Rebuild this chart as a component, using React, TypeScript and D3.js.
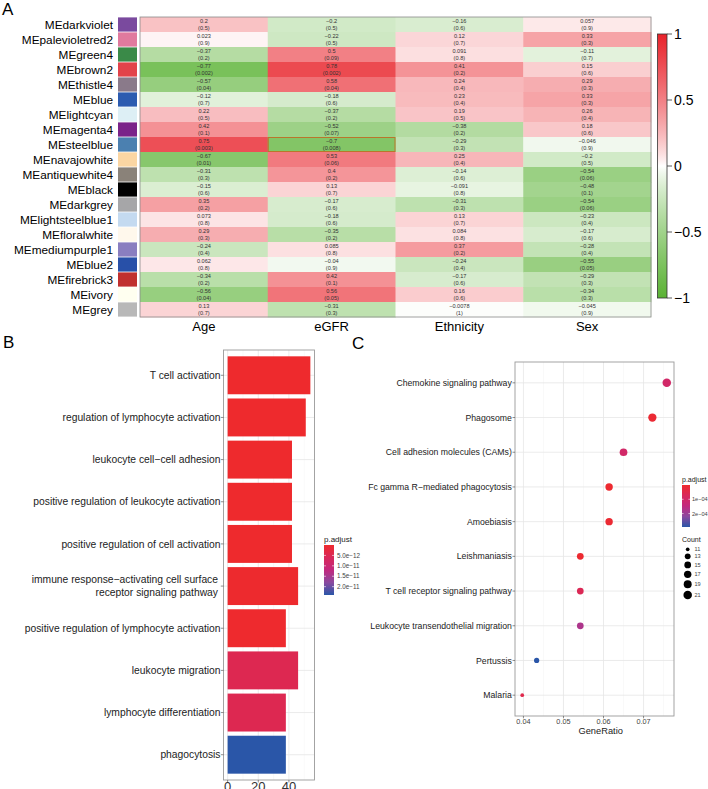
import React from "react";
import * as d3 from "d3";

// ---------------- Panel A data ----------------
const moduleNames = [
  "MEdarkviolet", "MEpalevioletred2", "MEgreen4", "MEbrown2", "MEthistle4",
  "MEblue", "MElightcyan", "MEmagenta4", "MEsteelblue", "MEnavajowhite",
  "MEantiquewhite4", "MEblack", "MEdarkgrey", "MElightsteelblue1", "MEfloralwhite",
  "MEmediumpurple1", "MEblue2", "MEfirebrick3", "MEivory", "MEgrey",
];
const moduleSwatches = [
  "#7A4A9E", "#E07A9E", "#3A8A48", "#E2434A", "#8A7A8A",
  "#2C5BB0", "#DDEFF5", "#7A2389", "#4B80B0", "#FBD6A3",
  "#8A8279", "#000000", "#A6A6A8", "#C4DAF0", "#FFF8EC",
  "#8A7EC0", "#2850A8", "#C0302F", "#FFFFF0", "#B8B8B8",
];
const traitNames = ["Age", "eGFR", "Ethnicity", "Sex"];
const corAge = [0.2, 0.023, -0.37, -0.77, -0.57, -0.12, 0.22, 0.42, 0.75, -0.67, -0.31, -0.15, 0.35, 0.073, 0.29, -0.24, 0.062, -0.34, -0.56, 0.13];
const pAge = [0.5, 0.9, 0.2, 0.002, 0.04, 0.7, 0.5, 0.1, 0.003, 0.01, 0.3, 0.6, 0.2, 0.8, 0.3, 0.4, 0.8, 0.2, 0.04, 0.7];
const corEGFR = [-0.2, -0.22, 0.5, 0.78, 0.58, -0.18, -0.37, -0.52, -0.7, 0.53, 0.4, 0.13, -0.17, -0.18, -0.35, 0.085, -0.04, 0.42, 0.56, -0.31];
const pEGFR = [0.5, 0.5, 0.09, 0.002, 0.04, 0.6, 0.2, 0.07, 0.008, 0.06, 0.2, 0.7, 0.6, 0.6, 0.2, 0.8, 0.9, 0.1, 0.05, 0.3];
const corEthnicity = [-0.16, 0.12, 0.091, 0.41, 0.24, 0.23, 0.19, -0.38, -0.29, 0.25, -0.14, -0.091, -0.31, 0.13, 0.084, 0.37, -0.24, -0.17, 0.16, -0.0078];
const pEthnicity = [0.6, 0.7, 0.8, 0.2, 0.4, 0.4, 0.5, 0.2, 0.3, 0.4, 0.6, 0.8, 0.3, 0.7, 0.8, 0.2, 0.4, 0.6, 0.6, 1];
const corSex = [0.057, 0.33, -0.11, 0.15, 0.29, 0.33, 0.26, 0.18, -0.046, -0.2, -0.54, -0.48, -0.54, -0.23, -0.17, -0.28, -0.55, -0.29, -0.34, -0.045];
const pSex = [0.9, 0.3, 0.7, 0.6, 0.3, 0.3, 0.4, 0.6, 0.9, 0.5, 0.06, 0.1, 0.06, 0.4, 0.6, 0.4, 0.05, 0.3, 0.3, 0.9];
const colorbarTicks = [1, 0.5, 0, -0.5, -1];
const highlightModule = "MEsteelblue";
const highlightTrait = "eGFR";

// ---------------- Panel B data ----------------
const goTerms = [
  "T cell activation",
  "regulation of lymphocyte activation",
  "leukocyte cell\u2212cell adhesion",
  "positive regulation of leukocyte activation",
  "positive regulation of cell activation",
  "immune response\u2212activating cell surface\nreceptor signaling pathway",
  "positive regulation of lymphocyte activation",
  "leukocyte migration",
  "lymphocyte differentiation",
  "phagocytosis",
];
const goCounts = [54, 51, 42, 42, 42, 46, 38, 46, 38, 38];
const goPAdjust = [1e-15, 1e-15, 2e-14, 3e-14, 5e-14, 2e-13, 1e-13, 4.8e-12, 4.8e-12, 2.4e-11];
const goXTicks = [0, 20, 40];
const goLegendTicks = [5e-12, 1e-11, 1.5e-11, 2e-11];
const goLegendLabels = ["5.0e\u221212", "1.0e\u221211", "1.5e\u221211", "2.0e\u221211"];

// ---------------- Panel C data ----------------
const keggTerms = [
  "Chemokine signaling pathway",
  "Phagosome",
  "Cell adhesion molecules (CAMs)",
  "Fc gamma R\u2212mediated phagocytosis",
  "Amoebiasis",
  "Leishmaniasis",
  "T cell receptor signaling pathway",
  "Leukocyte transendothelial migration",
  "Pertussis",
  "Malaria",
];
const keggGeneRatio = [0.0758, 0.0722, 0.065, 0.0614, 0.0614, 0.0542, 0.0542, 0.0542, 0.0433, 0.0397];
const keggCounts = [21, 20, 18, 17, 17, 15, 15, 15, 12, 11];
const keggPAdjust = [1.0e-4, 1.2e-5, 1.0e-4, 5e-6, 1e-5, 6e-6, 6.5e-5, 1.75e-4, 2.94e-4, 5e-5];
const keggXTicks = [0.04, 0.05, 0.06, 0.07];
const keggLegendTicks = [1e-4, 2e-4];
const keggLegendLabels = ["1e\u221204", "2e\u221204"];
const countLegend = [11, 13, 15, 17, 19, 21];

// palette used for p.adjust (low -> high)
const pPalette = ["#EE2A2D", "#D9285A", "#C2287E", "#8A4A9F", "#2A56A8"];
const corPalette = ["#5AB234", "#FFFFFF", "#E8222A"];

const FONT = "'Liberation Sans', Arial, Helvetica, sans-serif";
const fmt = (v: number) => String(v).replace("-", "\u2212");

export default function App() {
  // ===== Panel A =====
  const hmX = d3.scaleBand<string>().domain(traitNames).range([140, 651]);
  const hmY = d3.scaleBand<string>().domain(moduleNames).range([17, 317]);
  const hmBase = d3.scaleLinear<string>().domain([-1, 0, 1]).range(corPalette).clamp(true);
  const hmColor = (v: number) => hmBase(Math.sign(v) * Math.pow(Math.abs(v), 0.8));
  const cors = [corAge, corEGFR, corEthnicity, corSex];
  const ps = [pAge, pEGFR, pEthnicity, pSex];
  const cbY = d3.scaleLinear().domain([-1, 1]).range([298, 34]);
  const cbStops = d3.range(0, 1.0001, 0.025).map((t) => ({ t, c: hmColor(1 - 2 * t) }));

  const pInterp = d3.piecewise(d3.interpolateRgb, pPalette);

  // ===== Panel B =====
  const bX = d3.scaleLinear().domain([0 - 0.05 * d3.max(goCounts)!, d3.max(goCounts)! * 1.05]).range([223.5, 314.5]);
  const bY = d3.scalePoint<string>().domain(goTerms).range([350, 780]).padding(0.6);
  const bStep = bY.step();
  const bT = d3.scaleLinear().domain([d3.min(goPAdjust)!, d3.max(goPAdjust)!]).range([0, 1]);
  const bColor = (p: number) => pInterp(bT(p));
  const bLegY = d3.scaleLinear().domain([d3.min(goPAdjust)!, d3.max(goPAdjust)!]).range([545, 595]);
  const bMinor = [10, 30, 50];

  // ===== Panel C =====
  const gMin = d3.min(keggGeneRatio)!, gMax = d3.max(keggGeneRatio)!;
  const gPad = (gMax - gMin) * 0.05;
  const cX = d3.scaleLinear().domain([gMin - gPad, gMax + gPad]).range([515, 674]);
  const cY = d3.scalePoint<string>().domain(keggTerms).range([362, 716]).padding(0.6);
  const cT = d3.scaleLinear().domain([0, d3.max(keggPAdjust)!]).range([0, 1]);
  const cColor = (p: number) => pInterp(cT(p));
  const cSize = d3.scaleSqrt().domain([0, 10]).range([3.7, 8.5]);
  const diam = (c: number) => cSize(c - 11);
  const cLegY = d3.scaleLinear().domain([0, d3.max(keggPAdjust)!]).range([485, 527]);
  const cMinor = [0.045, 0.055, 0.065, 0.075];
  const gradStops = d3.range(0, 1.0001, 0.05);

  const countYs: number[] = [];
  countLegend.forEach((c, i) => {
    if (i === 0) countYs.push(549.3);
    else countYs.push(countYs[i - 1] + (diam(countLegend[i - 1]) + diam(c)) / 2 + 2.3);
  });

  return (
    <svg width={708} height={789} style={{ position: "absolute", left: 0, top: 0, background: "#fff" }} fontFamily={FONT}>
      <defs>
        <linearGradient id="hmGrad" x1="0" y1="0" x2="0" y2="1">
          {cbStops.map((s, i) => (
            <stop key={i} offset={s.t} stopColor={s.c} />
          ))}
        </linearGradient>
        <linearGradient id="pGrad" x1="0" y1="0" x2="0" y2="1">
          {gradStops.map((t, i) => (
            <stop key={i} offset={t} stopColor={pInterp(t)} />
          ))}
        </linearGradient>
      </defs>
      <rect x={0} y={0} width={708} height={789} fill="#fff" />

      {/* ===== Panel A ===== */}
      <text x={2} y={15} fontSize={17}>A</text>
      {moduleNames.map((m, i) => (
        <g key={m}>
          <text x={113} y={hmY(m)! + hmY.bandwidth() / 2 + 4.2} fontSize={11.8} textAnchor="end">{m}</text>
          <rect x={118} y={hmY(m)! + 0.4} width={19} height={hmY.bandwidth() - 0.8} fill={moduleSwatches[i]} />
        </g>
      ))}
      {traitNames.map((t, j) =>
        moduleNames.map((m, i) => (
          <rect key={t + m} x={hmX(t)!} y={hmY(m)!} width={hmX.bandwidth() + 0.5} height={hmY.bandwidth() + 0.5} fill={hmColor(cors[j][i])} />
        ))
      )}
      {traitNames.map((t, j) =>
        moduleNames.map((m, i) => (
          <g key={"t" + t + m} fontSize={5.6} fill="#333" textAnchor="middle">
            <text x={hmX(t)! + hmX.bandwidth() / 2} y={hmY(m)! + 5.8}>{fmt(cors[j][i])}</text>
            <text x={hmX(t)! + hmX.bandwidth() / 2} y={hmY(m)! + 12.6}>({fmt(ps[j][i])})</text>
          </g>
        ))
      )}
      <rect x={hmX(highlightTrait)! + 0.5} y={hmY(highlightModule)! + 0.5} width={hmX.bandwidth() - 1} height={hmY.bandwidth() - 1} fill="none" stroke="#B9762C" strokeWidth={1} />
      <rect x={140} y={17} width={511} height={300} fill="none" stroke="#8a8a8a" strokeWidth={0.8} />
      {traitNames.map((t) => (
        <text key={"lab" + t} x={hmX(t)! + hmX.bandwidth() / 2} y={331} fontSize={13} textAnchor="middle">{t}</text>
      ))}
      {/* colour bar */}
      <rect x={657.5} y={cbY(1)} width={9.5} height={cbY(-1) - cbY(1)} fill="url(#hmGrad)" stroke="#333" strokeWidth={0.8} />
      {colorbarTicks.map((v) => (
        <g key={"cb" + v}>
          <line x1={667} x2={672} y1={cbY(v)} y2={cbY(v)} stroke="#333" strokeWidth={0.8} />
          <text x={674} y={cbY(v) + 5} fontSize={14}>{fmt(v)}</text>
        </g>
      ))}

      {/* ===== Panel B ===== */}
      <text x={3} y={348} fontSize={17}>B</text>
      <rect x={223.5} y={350} width={91} height={430} fill="#fff" />
      {bMinor.map((v) => (
        <line key={"bm" + v} x1={bX(v)} x2={bX(v)} y1={350} y2={780} stroke="#f2f2f2" strokeWidth={0.5} />
      ))}
      {goXTicks.map((v) => (
        <line key={"bg" + v} x1={bX(v)} x2={bX(v)} y1={350} y2={780} stroke="#e6e6e6" strokeWidth={0.8} />
      ))}
      {goTerms.map((t) => (
        <line key={"bh" + t} x1={223.5} x2={314.5} y1={bY(t)!} y2={bY(t)!} stroke="#e6e6e6" strokeWidth={0.8} />
      ))}
      {goTerms.map((t, i) => (
        <rect key={"bar" + t} x={bX(0)} y={bY(t)! - bStep * 0.45} width={bX(goCounts[i]) - bX(0)} height={bStep * 0.9} fill={bColor(goPAdjust[i])} />
      ))}
      <rect x={223.5} y={350} width={91} height={430} fill="none" stroke="#9a9a9a" strokeWidth={0.9} />
      {goTerms.map((t) => {
        const lines = t.split("\n");
        const y0 = bY(t)! - ((lines.length - 1) * 12.6) / 2;
        return (
          <g key={"bl" + t}>
            <line x1={220.8} x2={223.5} y1={bY(t)!} y2={bY(t)!} stroke="#444" strokeWidth={0.6} />
            {lines.map((l, k) => (
              <text key={k} x={lines.length > 1 ? 218 : 220.5} y={y0 + k * 12.6 + 3.7} fontSize={10.3} fill="#222" textAnchor="end">{l}</text>
            ))}
          </g>
        );
      })}
      {goXTicks.map((v) => (
        <g key={"bx" + v}>
          <line x1={bX(v)} x2={bX(v)} y1={780} y2={782.5} stroke="#444" strokeWidth={0.6} />
          <text x={bX(v)} y={791} fontSize={13} fill="#333" textAnchor="middle">{v}</text>
        </g>
      ))}
      {/* B legend */}
      <text x={324} y={542} fontSize={8} fill="#222">p.adjust</text>
      <rect x={324} y={545} width={10} height={50} fill="url(#pGrad)" />
      {goLegendTicks.map((v, i) => (
        <g key={"bt" + i}>
          <line x1={324} x2={326} y1={bLegY(v)} y2={bLegY(v)} stroke="#fff" strokeWidth={0.6} />
          <line x1={332} x2={334} y1={bLegY(v)} y2={bLegY(v)} stroke="#fff" strokeWidth={0.6} />
          <text x={337} y={bLegY(v) + 2.2} fontSize={6.3} fill="#444">{goLegendLabels[i]}</text>
        </g>
      ))}

      {/* ===== Panel C ===== */}
      <text x={352} y={349} fontSize={17}>C</text>
      {cMinor.map((v) => (
        <line key={"cm" + v} x1={cX(v)} x2={cX(v)} y1={362} y2={716} stroke="#f2f2f2" strokeWidth={0.5} />
      ))}
      {keggXTicks.map((v) => (
        <line key={"cg" + v} x1={cX(v)} x2={cX(v)} y1={362} y2={716} stroke="#e6e6e6" strokeWidth={0.8} />
      ))}
      {keggTerms.map((t) => (
        <line key={"ch" + t} x1={515} x2={674} y1={cY(t)!} y2={cY(t)!} stroke="#e6e6e6" strokeWidth={0.8} />
      ))}
      {keggTerms.map((t, i) => (
        <circle key={"pt" + t} cx={cX(keggGeneRatio[i])} cy={cY(t)!} r={diam(keggCounts[i]) / 2} fill={cColor(keggPAdjust[i])} />
      ))}
      <rect x={515} y={362} width={159} height={354} fill="none" stroke="#9a9a9a" strokeWidth={0.9} />
      {keggTerms.map((t) => (
        <g key={"cl" + t}>
          <line x1={512.5} x2={515} y1={cY(t)!} y2={cY(t)!} stroke="#444" strokeWidth={0.6} />
          <text x={511.8} y={cY(t)! + 3.1} fontSize={8.7} fill="#222" textAnchor="end">{t}</text>
        </g>
      ))}
      {keggXTicks.map((v) => (
        <g key={"cx" + v}>
          <line x1={cX(v)} x2={cX(v)} y1={716} y2={718.3} stroke="#444" strokeWidth={0.6} />
          <text x={cX(v)} y={724.3} fontSize={7.3} fill="#444" textAnchor="middle">{v.toFixed(2)}</text>
        </g>
      ))}
      <text x={600.7} y={734} fontSize={9.3} fill="#222" textAnchor="middle">GeneRatio</text>
      {/* C legends */}
      <text x={682} y={481.5} fontSize={7} fill="#222">p.adjust</text>
      <rect x={682} y={485} width={8} height={42} fill="url(#pGrad)" />
      {keggLegendTicks.map((v, i) => (
        <g key={"ct" + i}>
          <line x1={682} x2={683.6} y1={cLegY(v)} y2={cLegY(v)} stroke="#fff" strokeWidth={0.6} />
          <line x1={688.4} x2={690} y1={cLegY(v)} y2={cLegY(v)} stroke="#fff" strokeWidth={0.6} />
          <text x={692} y={cLegY(v) + 2} fontSize={5.6} fill="#444">{keggLegendLabels[i]}</text>
        </g>
      ))}
      <text x={682} y={542} fontSize={7} fill="#222">Count</text>
      {countLegend.map((c, i) => (
        <g key={"cnt" + c}>
          <circle cx={687.7} cy={countYs[i]} r={diam(c) / 2} fill="#000" />
          <text x={694.5} y={countYs[i] + 2} fontSize={5.6} fill="#444">{c}</text>
        </g>
      ))}
    </svg>
  );
}
